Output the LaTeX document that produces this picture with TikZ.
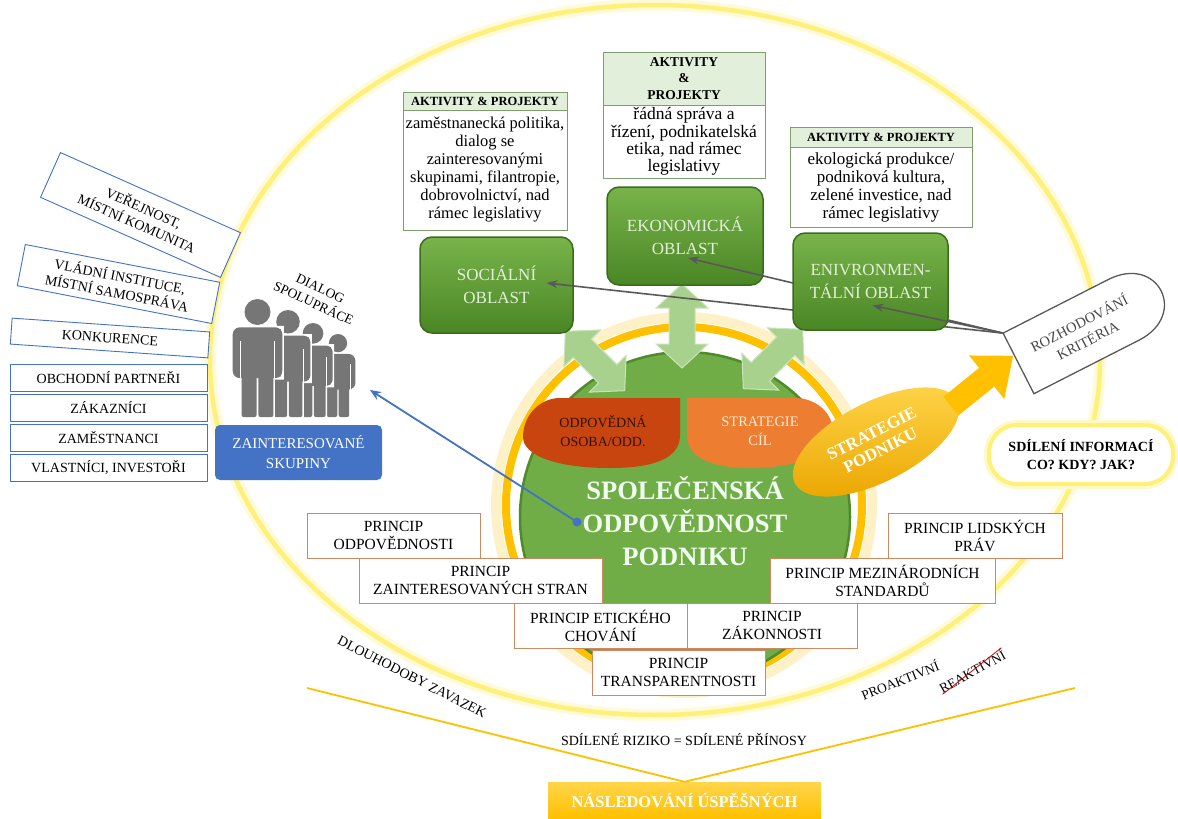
\documentclass[tikz,border=0pt]{standalone}
\usepackage{fontspec}
\setmainfont{Liberation Serif}
\usetikzlibrary{arrows.meta,positioning,shapes.geometric}

\definecolor{ringgold}{HTML}{FFC000}
\definecolor{paleyel}{HTML}{FFF07A}
\definecolor{csrgreen}{HTML}{70AD47}
\definecolor{csrrim}{HTML}{4F8A2B}
\definecolor{arrowgreen}{HTML}{A9D18E}
\definecolor{boxtop}{HTML}{78B44A}
\definecolor{boxbot}{HTML}{4B8626}
\definecolor{boxrim}{HTML}{3B6B1D}
\definecolor{boxtext}{HTML}{E2F0D9}
\definecolor{aktfill}{HTML}{E2EFDA}
\definecolor{aktline}{HTML}{7E9E6A}
\definecolor{sblue}{HTML}{4472C4}
\definecolor{figgray}{HTML}{767676}
\definecolor{prline}{HTML}{CC8A60}
\definecolor{leafdark}{HTML}{C9450F}
\definecolor{leaflight}{HTML}{ED7D31}
\definecolor{arrowgray}{HTML}{595959}
\definecolor{stratlight}{HTML}{FFD54A}
\definecolor{stratdark}{HTML}{EBA600}

\tikzset{
  plain/.style={inner sep=0pt, align=center, font=\fontsize{13.5}{16}\selectfont},
  sbox/.style={draw=sblue, fill=white, line width=0.9pt, align=center, inner sep=0pt,
    font=\fontsize{14}{17}\selectfont},
  oblast/.style={draw=boxrim, line width=1.5pt, rounded corners=12pt, top color=boxtop,
    bottom color=boxbot, text=boxtext, align=center, inner sep=0pt,
    font=\fontsize{17}{23}\selectfont},
  akthead/.style={draw=aktline, fill=aktfill, line width=0.7pt, align=center,
    inner sep=0pt, outer sep=0pt},
  aktbody/.style={draw=aktline, fill=white, line width=0.7pt, align=center,
    inner sep=0pt, outer sep=0pt},
  princip/.style={draw=prline, fill=white, line width=0.9pt, align=center, inner sep=0pt,
    minimum height=45pt, font=\fontsize{15.5}{18}\selectfont},
  grayarrow/.style={draw=arrowgray, line width=1.6pt, -{Stealth[length=11pt,width=8pt]}},
  dblarrow/.style={fill=arrowgreen, draw=arrowgreen!60!white, line width=1pt},
  result/.style={top color=stratlight, bottom color=ringgold, text=white, inner sep=0pt,
    minimum width=273pt, minimum height=37pt, font=\bfseries\fontsize{16.5}{19}\selectfont},
}

\begin{document}
\begin{tikzpicture}[x=1pt, y=-1pt]
\useasboundingbox (0,0) rectangle (1178,819);

    % Outer oval
    \draw[paleyel!30, line width=12pt] (655,360) ellipse [x radius=445, y radius=355];
    \draw[paleyel, line width=4.5pt] (655,360) ellipse [x radius=445, y radius=355];

    % Bottom: commitment lines and result box
    \coordinate (longterm) at (307,688);
    \coordinate (proactive) at (1075,688);
    \node[result] (nasl) at (684.5,800.5) {NÁSLEDOVÁNÍ ÚSPĚŠNÝCH};
    \draw[ringgold, line width=1.8pt] (longterm) -- (nasl.north) -- (proactive);
    \node[plain, font=\fontsize{14}{16}\selectfont] (riziko) at (684,740) {SDÍLENÉ RIZIKO = SDÍLENÉ PŘÍNOSY};
    \node[plain, rotate=-27, font=\fontsize{14}{16}\selectfont] (zavazek) at (412,677) {DLOUHODOBY ZAVAZEK};
    \node[plain, rotate=22] (proakt) at (900,680) {PROAKTIVNÍ};
    \node[plain, rotate=29] (reakt) at (972,671) {REAKTIVNÍ};
    \draw[red!80!black, line width=0.8pt] (reakt.south west) -- (reakt.north east);

    % Ring and core circle
    \draw[ringgold!22, line width=10pt] (684,505) circle (188);
    \draw[ringgold, line width=8pt] (684,505) circle (178);
    \draw[csrrim, fill=csrgreen, line width=2.5pt] (685,517) circle (165);

    % Links between core and the three areas
    \foreach \cx/\cy/\ang in {682/326/90, 595/361/-45, 773/359/45}
      \filldraw[dblarrow, shift={(\cx,\cy)}, rotate=\ang]
        (-42,0) -- (-18,-26) -- (-18,-13) -- (18,-13) -- (18,-26) -- (42,0)
        -- (18,26) -- (18,13) -- (-18,13) -- (-18,26) -- cycle;

    % Responsible person / strategy leaves
    \fill[leafdark] (680,398) -- (680,435) .. controls (680,458) and (655,468) .. (610,468)
      .. controls (555,468) and (523,455) .. (523,437) .. controls (523,415) and (540,398) .. (560,398) -- cycle;
    \fill[leaflight] (687,398) -- (687,435) .. controls (687,458) and (712,468) .. (750,468)
      .. controls (805,468) and (833,450) .. (833,432) .. controls (833,412) and (815,398) .. (795,398) -- cycle;
    \node[plain, text=black!75!leafdark, font=\fontsize{14}{19}\selectfont] (osoba) at (603,431) {ODPOVĚDNÁ\\OSOBA/ODD.};
    \node[plain, text=orange!15!white, font=\fontsize{14.5}{19}\selectfont] (cil) at (760,431) {STRATEGIE\\CÍL};

    \node[plain, text=green!6!white, font=\bfseries\fontsize{26.5}{33}\selectfont] (csr) at (685,521)
      {SPOLEČENSKÁ\\ODPOVĚDNOST\\PODNIKU};

    % Decision criteria callout
    \begin{scope}[shift={(1088,328)}, rotate=27]
      \filldraw[draw=arrowgray, line width=1.3pt, fill=white]
        (-78,-34) -- (40,-34) .. controls (96,-34) and (96,34) .. (40,34) -- (-78,34) -- cycle;
      \coordinate (kritcorner) at (-78,-34);
    \end{scope}
    \node[plain, rotate=27, text=arrowgray!80!black, font=\fontsize{14.5}{19}\selectfont] (krit) at (1083,331)
      {ROZHODOVÁNÍ\\KRITÉRIA};

    % Three areas
    \node[oblast, minimum width=153pt, minimum height=96pt] (soc) at (496.5,285) {SOCIÁLNÍ\\OBLAST};
    \node[oblast, minimum width=156pt, minimum height=98pt] (eko) at (685,236) {EKONOMICKÁ\\OBLAST};
    \draw[grayarrow] (kritcorner) -- ([xshift=50pt, yshift=2pt]soc.center);
    \draw[grayarrow] (kritcorner) -- ([xshift=3pt, yshift=-22pt]eko.center);
    \node[oblast, minimum width=155pt, minimum height=97pt] (env) at (870.5,281.5) {ENIVRONMEN-\\TÁLNÍ OBLAST};
    \draw[grayarrow] (kritcorner) -- ([xshift=2pt, yshift=-24pt]env.center);

    % Activities and projects
    \node[akthead, minimum width=164pt, minimum height=18pt, font=\bfseries\fontsize{12.5}{15}\selectfont]
      (sochdr) at (485,101) {AKTIVITY \& PROJEKTY};
    \node[aktbody, minimum width=164pt, minimum height=120pt, font=\fontsize{16.5}{18}\selectfont,
      below=0pt of sochdr] (socbody)
      {zaměstnanecká politika,\\dialog se\\zainteresovanými\\skupinami, filantropie,\\dobrovolnictví, nad\\rámec legislativy};
    \node[akthead, minimum width=162pt, minimum height=53pt, font=\bfseries\fontsize{13.5}{16.5}\selectfont]
      (ekohdr) at (684,78.5) {AKTIVITY\\\&\\PROJEKTY};
    \node[aktbody, minimum width=162pt, minimum height=73pt, font=\fontsize{17.5}{17.2}\selectfont,
      below=0pt of ekohdr] (ekobody)
      {řádná správa a\\řízení, podnikatelská\\etika, nad rámec\\legislativy};
    \node[akthead, minimum width=182pt, minimum height=20pt, font=\bfseries\fontsize{12.5}{15}\selectfont]
      (envhdr) at (881,137) {AKTIVITY \& PROJEKTY};
    \node[aktbody, minimum width=182pt, minimum height=80pt, font=\fontsize{17}{18}\selectfont,
      below=0pt of envhdr] (envbody)
      {ekologická produkce/\\podniková kultura,\\zelené investice, nad\\rámec legislativy};

    % Stakeholders
    \node[sbox, rotate=-24, minimum width=197pt, minimum height=49pt] (verej) at (140.5,215) {VEŘEJNOST,\\MÍSTNÍ KOMUNITA};
    \node[sbox, rotate=-11, minimum width=198pt, minimum height=42pt] (vlada) at (118.5,284) {VLÁDNÍ INSTITUCE,\\MÍSTNÍ SAMOSPRÁVA};
    \node[sbox, rotate=-4, minimum width=198pt, minimum height=26pt] (konk) at (110,338) {KONKURENCE};
    \node[sbox, minimum width=197pt, minimum height=27pt] (obch) at (108.5,377.5) {OBCHODNÍ PARTNEŘI};
    \node[sbox, minimum width=197pt, minimum height=27pt] (zak) at (108.5,407.5) {ZÁKAZNÍCI};
    \node[sbox, minimum width=197pt, minimum height=27pt] (zam) at (108.5,437.5) {ZAMĚSTNANCI};
    \node[sbox, minimum width=197pt, minimum height=27pt] (vlast) at (108.5,467.5) {VLASTNÍCI, INVESTOŘI};

    % Group of people
    \foreach \px/\sc in {338/0.83, 313/0.94, 288/1.07, 257.5/1.18}{
      \begin{scope}[shift={(\px,417)}, scale=\sc]
        \draw[white, line width=3pt] (0,-89) circle (11) (-21,-33) rectangle (21,-76)
          (-13.5,-44) rectangle (13.5,0);
        \fill[figgray] (0,-89) circle (11);
        \fill[figgray, rounded corners=7pt] (-21,-33) rectangle (21,-76);
        \fill[figgray, rounded corners=2pt] (-13.5,-44) rectangle (-0.8,0);
        \fill[figgray, rounded corners=2pt] (0.8,-44) rectangle (13.5,0);
        \draw[white, line width=1pt] (-14.5,-33) -- (-14.5,-64) (14.5,-33) -- (14.5,-64);
      \end{scope}
    }
    \node[plain, rotate=-25] (dialog) at (317,296) {DIALOG\\SPOLUPRÁCE};
    \node[fill=sblue, text=white, rounded corners=5pt, align=center, inner sep=0pt,
      minimum width=167pt, minimum height=55pt, font=\fontsize{15}{20}\selectfont]
      (skupiny) at (298.5,452.5) {ZAINTERESOVANÉ\\SKUPINY};

    % Link from the core to stakeholders
    \coordinate (dot) at (577,522);
    \coordinate (crowd) at (370,390);
    \draw[sblue, line width=1.8pt, -{Stealth[length=11pt,width=9pt]}] (dot) -- (crowd);
    \fill[sblue] (dot) circle (4.5);

    % Principles
    \node[princip, minimum width=173pt] (odp) at (393.5,535.5) {PRINCIP\\ODPOVĚDNOSTI};
    \node[princip, minimum width=243pt] (zaint) at (480.5,580.5) {PRINCIP\\ZAINTERESOVANÝCH STRAN};
    \node[princip, minimum width=173pt] (etika) at (600.5,625.5) {PRINCIP ETICKÉHO\\CHOVÁNÍ};
    \node[princip, minimum width=170pt] (zakon) at (772,625.5) {PRINCIP\\ZÁKONNOSTI};
    \node[princip, minimum width=173pt] (transp) at (678.5,672.5) {PRINCIP\\TRANSPARENTNOSTI};
    \node[princip, minimum width=225pt] (mezin) at (882.5,580.5) {PRINCIP MEZINÁRODNÍCH\\STANDARDŮ};
    \node[princip, minimum width=174pt] (lidska) at (975,535.5) {PRINCIP LIDSKÝCH\\PRÁV};

    % Company strategy
    \node[ellipse, rotate=27, minimum width=182pt, minimum height=80pt, inner sep=0pt,
      top color=stratlight, bottom color=stratdark, text=white, align=center,
      font=\bfseries\fontsize{17}{19}\selectfont] (strat) at (876,442) {STRATEGIE\\PODNIKU};
    \fill[ringgold, shift={(982,381)}, rotate=39]
      (-40,-12) -- (6,-12) -- (6,-28) -- (40,0) -- (6,28) -- (6,12) -- (-40,12) -- cycle;

    % Sharing information
    \node[draw=paleyel, line width=4pt, fill=white, rounded corners=28pt,
      preaction={draw=paleyel!40, line width=10pt},
      minimum width=184pt, minimum height=59pt, inner sep=0pt, align=center,
      font=\bfseries\fontsize{14}{18}\selectfont] (sdil) at (1081,454.5)
      {SDÍLENÍ INFORMACÍ\\CO? KDY? JAK?};
\end{tikzpicture}
\end{document}
